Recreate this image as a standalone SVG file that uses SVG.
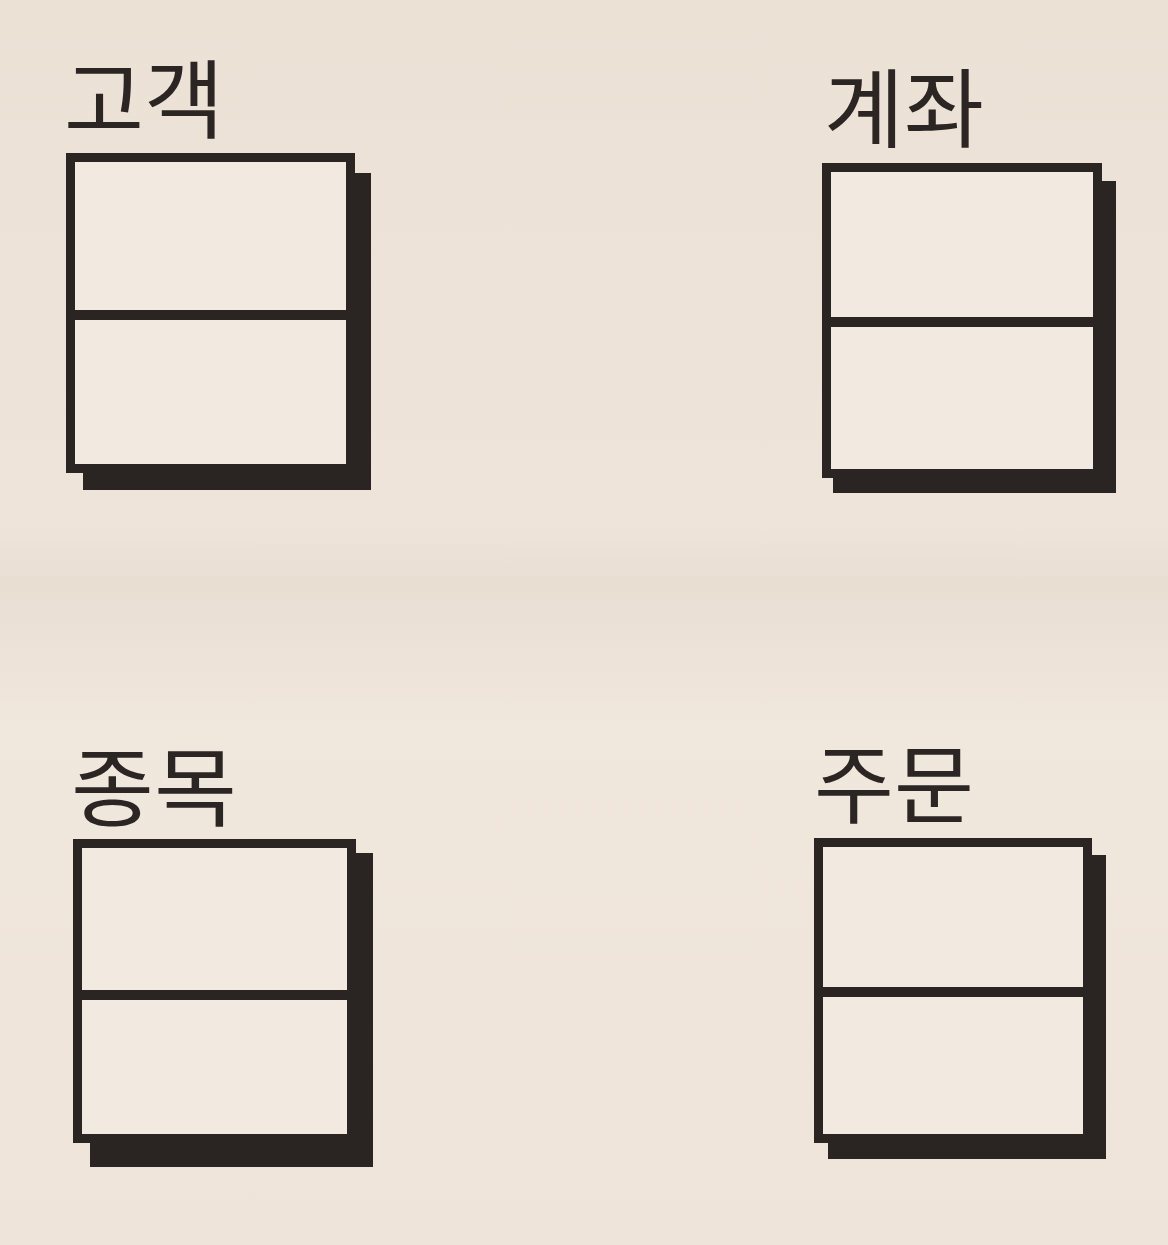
<svg xmlns="http://www.w3.org/2000/svg" width="1168" height="1245" viewBox="0 0 1168 1245">
  <defs>
    <linearGradient id="bg" x1="0" y1="0" x2="0" y2="1">
      <stop offset="0" stop-color="#ece1d5"/>
      <stop offset="0.42" stop-color="#eee4d9"/>
      <stop offset="0.47" stop-color="#e9ded2"/>
      <stop offset="0.58" stop-color="#f0e7dd"/>
      <stop offset="1" stop-color="#eee4d9"/>
    </linearGradient>
  </defs>
  <style>
    .shadow { fill: #2a2523; }
    .box { fill: #f2eae1; stroke: #2a2523; stroke-width: 9; }
    .div { stroke: #2a2523; stroke-width: 10; }
    .label { font-family: "Noto Sans CJK KR", "Noto Sans", sans-serif; font-size: 86px; font-weight: 400; fill: #2b2623; }
  </style>
  <rect x="0" y="0" width="1168" height="1245" fill="url(#bg)"/>

  <g id="node-customer">
    <text class="label" x="64" y="132" textLength="160" lengthAdjust="spacingAndGlyphs">고객</text>
    <rect class="shadow" x="83" y="173" width="288" height="317"/>
    <rect class="box" x="70.5" y="157.5" width="280" height="311"/>
    <line class="div" x1="70" y1="315" x2="351" y2="315"/>
  </g>

  <g id="node-account">
    <text class="label" x="824" y="141" textLength="160" lengthAdjust="spacingAndGlyphs">계좌</text>
    <rect class="shadow" x="833" y="181" width="283" height="312"/>
    <rect class="box" x="826.5" y="167.5" width="271" height="306"/>
    <line class="div" x1="826" y1="322" x2="1098" y2="322"/>
  </g>

  <g id="node-stock">
    <text class="label" x="71" y="820" textLength="166" lengthAdjust="spacingAndGlyphs">종목</text>
    <rect class="shadow" x="90" y="853" width="283" height="314"/>
    <rect class="box" x="77.5" y="843.5" width="274" height="295"/>
    <line class="div" x1="77" y1="995" x2="352" y2="995"/>
  </g>

  <g id="node-order">
    <text class="label" x="814" y="817" textLength="160" lengthAdjust="spacingAndGlyphs">주문</text>
    <rect class="shadow" x="828" y="855" width="278" height="304"/>
    <rect class="box" x="818.5" y="842.5" width="269" height="296"/>
    <line class="div" x1="818" y1="992" x2="1088" y2="992"/>
  </g>

  <g id="connectors"></g>
</svg>
